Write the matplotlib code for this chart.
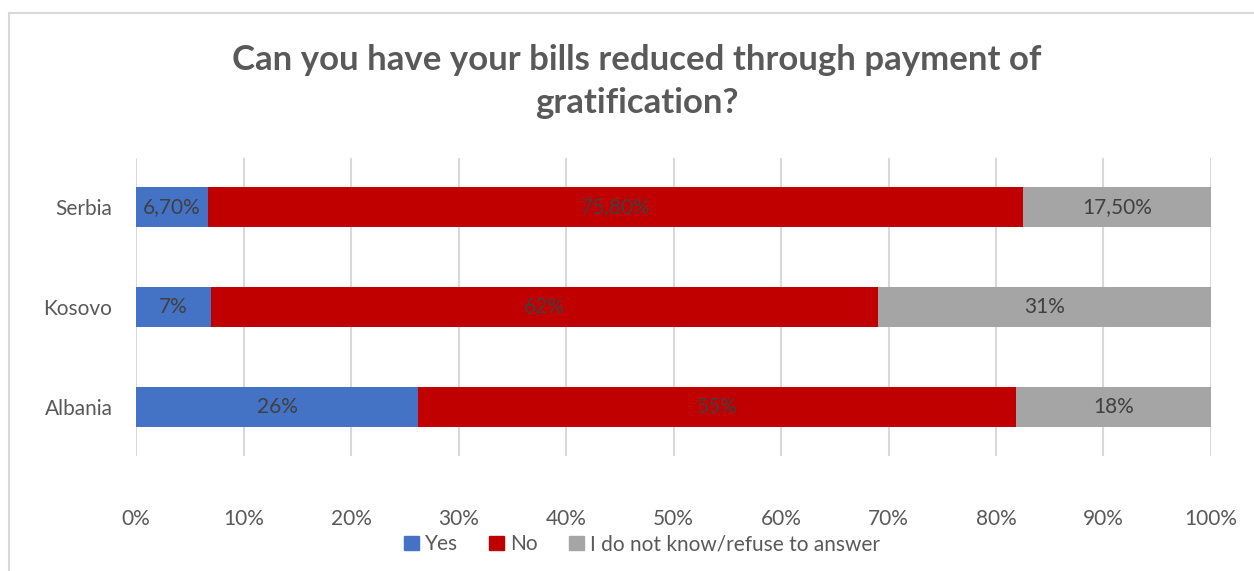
import numpy as np
import matplotlib.pyplot as plt
from matplotlib.patches import Rectangle
from matplotlib.lines import Line2D

plt.rcParams['font.family'] = ['Lato', 'DejaVu Sans']

# Survey answers per country (percent), bottom to top
countries = ['Albania', 'Kosovo', 'Serbia']
yes = [26, 7, 6.7]
no = [55, 62, 75.8]
dont_know = [18, 31, 17.5]
label_decimals = [0, 0, 2]

answers = ['Yes', 'No', 'I do not know/refuse to answer']
colors = ['#4472C4', '#C00000', '#A5A5A5']

series = np.array([yes, no, dont_know], dtype=float)
# 100% stacked: each bar is scaled to its own total
shares = series / series.sum(axis=0) * 100

fig = plt.figure(figsize=(12.54, 5.71), dpi=100)
ax = fig.add_axes([0.1085, 0.2014, 0.8572, 0.5219])

pos = np.arange(len(countries))
left = np.zeros(len(countries))
for i, name in enumerate(answers):
    ax.barh(pos, shares[i], left=left, height=0.4, color=colors[i],
            label=name, zorder=3)
    for j in range(len(countries)):
        txt = f'{series[i, j]:.{label_decimals[j]}f}%'.replace('.', ',')
        ax.text(left[j] + shares[i, j] / 2, pos[j], txt, ha='center',
                va='center', fontsize=15, color='#404040', zorder=4)
    left += shares[i]

ax.set_xlim(0, 100)
ax.set_ylim(-0.49, 2.49)
ax.set_xticks(np.arange(0, 101, 10))
ax.set_xticklabels([f'{t}%' for t in range(0, 101, 10)])
ax.set_yticks(pos)
ax.set_yticklabels(countries)
ax.tick_params(length=0, labelsize=15, labelcolor='#595959')
ax.tick_params(axis='x', pad=38)
ax.tick_params(axis='y', pad=17)
ax.grid(axis='x', color='#D9D9D9', linewidth=1.5, zorder=0)
for s in ax.spines.values():
    s.set_visible(False)

fig.text(0.508, 0.857, 'Can you have your bills reduced through payment of\ngratification?',
         ha='center', va='center', fontsize=25, fontweight='bold',
         color='#595959', linespacing=1.42)

handles = [Rectangle((0, 0), 1, 1, color=c) for c in colors]
fig.legend(handles, answers, loc='center', bbox_to_anchor=(0.512, 0.047),
           ncol=3, frameon=False, fontsize=15, labelcolor='#595959',
           handlelength=0.7, handleheight=0.7, handletextpad=0.3,
           columnspacing=1.5)

# outer chart frame
fig.add_artist(Line2D([0.0075, 0.0075], [0, 0.977], color='#D9D9D9', lw=1.5))
fig.add_artist(Line2D([0.0075, 1.0], [0.977, 0.977], color='#D9D9D9', lw=1.5))

fig.savefig('out.png', dpi=100)
